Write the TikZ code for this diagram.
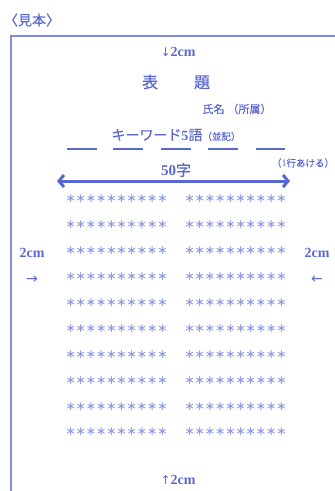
\documentclass[tikz,border=0pt]{standalone}
\usepackage{fontspec}
\setmainfont{Liberation Serif}
\newfontfamily\jp[FakeBold=0.4]{Noto Sans CJK JP}
\newfontfamily\jpstar{Noto Sans CJK JP}
\newfontfamily\sym{DejaVu Sans}
\usetikzlibrary{arrows.meta}
\definecolor{txtblue}{RGB}{88,104,208}
\definecolor{lineblue}{RGB}{128,140,226}
\definecolor{starblue}{RGB}{140,152,232}
\newcommand{\fsz}[1]{\fontsize{#1}{#1}\selectfont}
\tikzset{
  lbl/.style={inner sep=0pt, text=txtblue},
  starrow/.style={inner sep=0pt, text=starblue, font=\jpstar\bfseries\fsz{10.2}},
  dashbar/.style={draw=txtblue, line width=2.5pt},
  framebar/.style={draw=lineblue, line width=1.5pt},
  widtharrow/.style={draw=txtblue, line width=3pt, {Straight Barb[length=5pt,width=12pt]}-{Straight Barb[length=5pt,width=12pt]}}
}
\begin{document}
\begin{tikzpicture}[x=1pt,y=-1pt]
\useasboundingbox (0,0) rectangle (335,491);
% frame
\draw[framebar] (11,492) -- (11,36) -- (336,36);
% heading
\node[lbl, font=\jp\fsz{14}] (sample) at (32,20) {〈見本〉};
\node[lbl] (topmargin) at (178,52) {{\sym\fsz{12}↓}{\bfseries\fsz{14}2cm}};
\node[lbl, font=\jp\fsz{16}] (title) at (176,82) {表\hspace{36pt}題};
\node[lbl, font=\jp\fsz{11}] (author) at (237,109) {氏名\hspace{3pt}（所属）};
\node[lbl] (keywords) at (176,135) {{\jp\fsz{14}キーワード}{\bfseries\fsz{14}5}{\jp\fsz{14}語}{\jp\fsz{9.5}（並記）}};
% keyword dashes
\draw[dashbar] (67,149) -- (97,149);
\draw[dashbar] (113,149) -- (143,149);
\draw[dashbar] (161,149) -- (191,149);
\draw[dashbar] (208,149) -- (238,149);
\draw[dashbar] (256,149) -- (285,149);
\node[lbl] (blank) at (303,163) {{\jp\fsz{9.5}（}{\fsz{10}1}{\jp\fsz{9.5}行あける）}};
\node[lbl] (fifty) at (176,170) {{\bfseries\fsz{15}50}{\jp\fsz{15}字}};
\coordinate (al) at (57,181);
\coordinate (ar) at (290,181);
\draw[widtharrow] (al) -- (ar);
% star rows
\foreach \i in {0,...,9}{
  \node[starrow] (sl\i) at (116.5,{199+25.9*\i}) {＊＊＊＊＊＊＊＊＊＊};
  \node[starrow] (sr\i) at (235.5,{199+25.9*\i}) {＊＊＊＊＊＊＊＊＊＊};
}
% side margins
\node[lbl] (leftmargin) at (32,253) {\bfseries\fsz{14}2cm};
\node[lbl] (leftarrow) at (32,280) {\sym\fsz{14}→};
\node[lbl] (rightmargin) at (317,253) {\bfseries\fsz{14}2cm};
\node[lbl] (rightarrow) at (317,280) {\sym\fsz{14}←};
% bottom
\node[lbl] (bottommargin) at (178,480) {{\sym\fsz{12}↑}{\bfseries\fsz{14}2cm}};
\end{tikzpicture}
\end{document}
